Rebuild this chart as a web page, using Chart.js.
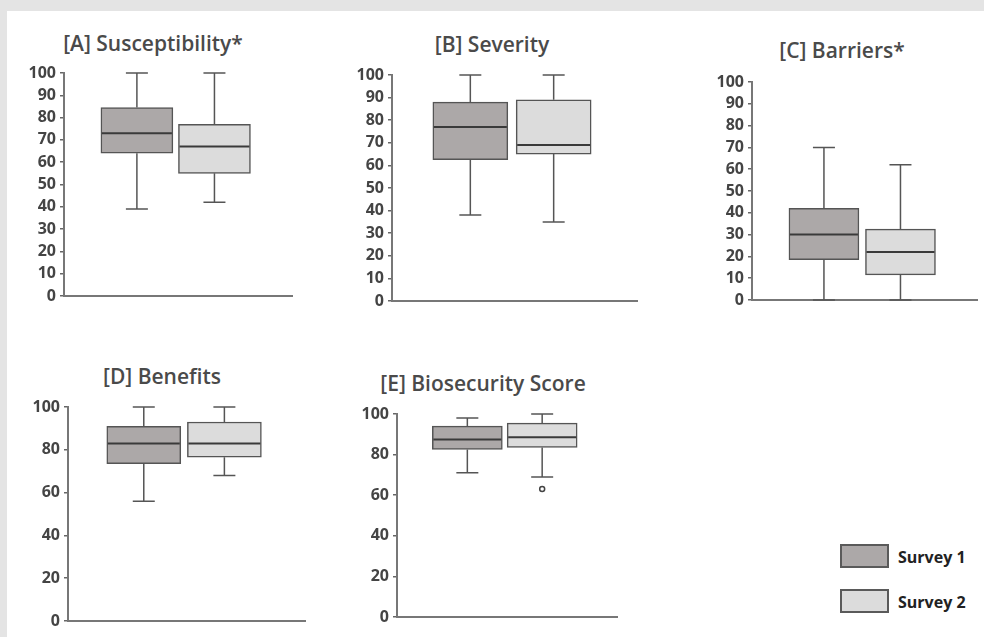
<!DOCTYPE html>
<html>
<head>
<meta charset="utf-8">
<script src="https://cdn.jsdelivr.net/npm/chart.js@4/dist/chart.umd.min.js"></script>
<style>
  html, body { margin: 0; padding: 0; }
  body { width: 984px; height: 637px; background: #e4e4e4; position: relative; overflow: hidden; font-family: "Open Sans", sans-serif; }
  #sheet { position: absolute; left: 7px; top: 11px; right: 0; bottom: 0; background: #fff; }
  canvas { position: absolute; }
  .title { position: absolute; transform: translate(-50%, -50%); font-size: 21px; font-weight: 600; color: #4a4a4a; white-space: nowrap; }
  .swatch { position: absolute; width: 45px; height: 20px; border: 2px solid #5a5a5a; }
  .legend-text { position: absolute; transform: translateY(-50%); font-size: 16px; font-weight: bold; color: #222; white-space: nowrap; }
</style>
</head>
<body>
<div id="sheet"></div>
<script>
const categories = ['Survey 1', 'Survey 2'];

// each survey: [min, q1, median, q3, max]
const susceptibility = [[39, 64, 73, 84.5, 100], [42, 55, 67, 77, 100]];
const severity = [[38, 62.5, 77, 88, 100], [35, 65, 69, 89, 100]];
const barriers = [[0, 18.5, 30, 42, 70], [0, 11.5, 22, 32.5, 62]];
const benefits = [[56, 73.5, 83, 91, 100], [68, 76.5, 83, 93, 100]];
const biosecurity = [[71, 82.5, 87.5, 94, 98], [69, 83.5, 88.5, 95.5, 100]];
const biosecurityOutliers = [[], [63]];

const noOutliers = [[], []];
const fillColors = ['#aca8a8', '#dcdcdc'];

// layout of each panel: y-axis line x, pixel of 100, pixel of 0, x-axis end
const panels = [
  { title: '[A] Susceptibility*', stats: susceptibility, outliers: noOutliers, step: 10, axisX: 64, top: 73, bottom: 296, right: 292, box: 72, tx: 153, ty: 43 },
  { title: '[B] Severity', stats: severity, outliers: noOutliers, step: 10, axisX: 392, top: 75, bottom: 301, right: 637, box: 75, tx: 492, ty: 44 },
  { title: '[C] Barriers*', stats: barriers, outliers: noOutliers, step: 10, axisX: 752, top: 82, bottom: 300, right: 977, box: 70, tx: 842, ty: 50 },
  { title: '[D] Benefits', stats: benefits, outliers: noOutliers, step: 20, axisX: 68, top: 407, bottom: 621, right: 305, box: 74, tx: 162, ty: 376 },
  { title: '[E] Biosecurity Score', stats: biosecurity, outliers: biosecurityOutliers, step: 20, axisX: 397, top: 414, bottom: 617, right: 617, box: 70, tx: 483, ty: 383 }
];

const AXIS_W = 50;
const PAD = 16;

// whiskers, caps, medians and outliers drawn from the chart scales
const boxWhiskers = {
  id: 'boxWhiskers',
  afterDatasetsDraw(chart, args, opts) {
    const ctx = chart.ctx;
    const y = chart.scales.y;
    const meta = chart.getDatasetMeta(0);
    opts.stats.forEach((s, i) => {
      const bar = meta.data[i];
      const cx = bar.x;
      const half = bar.width / 2;
      const [mn, q1, med, q3, mx] = s.map(v => y.getPixelForValue(v));
      ctx.save();
      ctx.strokeStyle = '#555';
      ctx.lineWidth = 1.5;
      ctx.beginPath();
      ctx.moveTo(cx, q3); ctx.lineTo(cx, mx);
      ctx.moveTo(cx, q1); ctx.lineTo(cx, mn);
      ctx.moveTo(cx - 11, mx); ctx.lineTo(cx + 11, mx);
      ctx.moveTo(cx - 11, mn); ctx.lineTo(cx + 11, mn);
      ctx.stroke();
      ctx.strokeStyle = '#3a3a3a';
      ctx.lineWidth = 2;
      ctx.beginPath();
      ctx.moveTo(cx - half + 1, med); ctx.lineTo(cx + half - 1, med);
      ctx.stroke();
      (opts.outliers[i] || []).forEach(v => {
        ctx.beginPath();
        ctx.arc(cx, y.getPixelForValue(v), 2.5, 0, Math.PI * 2);
        ctx.lineWidth = 1.5;
        ctx.strokeStyle = '#444';
        ctx.stroke();
      });
      ctx.restore();
    });
  }
};

panels.forEach(p => {
  const canvas = document.createElement('canvas');
  const left = p.axisX - AXIS_W;
  const top = p.top - PAD;
  canvas.width = p.right - left + 4;
  canvas.height = p.bottom - p.top + PAD * 2;
  canvas.style.left = left + 'px';
  canvas.style.top = top + 'px';
  document.body.appendChild(canvas);

  const title = document.createElement('div');
  title.className = 'title';
  title.textContent = p.title;
  title.style.left = p.tx + 'px';
  title.style.top = p.ty + 'px';
  document.body.appendChild(title);

  new Chart(canvas.getContext('2d'), {
    type: 'bar',
    data: {
      labels: categories,
      datasets: [{
        label: p.title,
        data: p.stats.map((s, i) => ({ x: i + 1, y: [s[1], s[3]] })),
        backgroundColor: fillColors,
        borderColor: '#555',
        borderWidth: 1.5,
        borderSkipped: false,
        barThickness: p.box
      }]
    },
    options: {
      responsive: false,
      animation: false,
      layout: { padding: { top: PAD, bottom: PAD, left: 0, right: 4 } },
      plugins: {
        legend: { display: false },
        tooltip: { enabled: false },
        boxWhiskers: { stats: p.stats, outliers: p.outliers }
      },
      scales: {
        x: {
          type: 'linear',
          min: 0.06,
          max: 3,
          offset: false,
          grid: { display: false },
          ticks: { display: false },
          border: { display: true, color: '#777', width: 2 },
          afterFit: (scale) => { scale.height = 0; }
        },
        y: {
          min: 0,
          max: 100,
          ticks: {
            stepSize: p.step,
            autoSkip: false,
            padding: 4,
            color: '#444',
            font: { family: 'Open Sans', size: 16, weight: 'bold' }
          },
          grid: { drawOnChartArea: false, drawTicks: true, tickLength: 4, color: '#666', lineWidth: 1.5 },
          border: { display: true, color: '#777', width: 2 },
          afterFit: (scale) => { scale.width = AXIS_W; }
        }
      }
    },
    plugins: [boxWhiskers]
  });
});

// legend
const legendRows = [{ y: 544, label: categories[0] }, { y: 589, label: categories[1] }];
legendRows.forEach((r, i) => {
  const sw = document.createElement('div');
  sw.className = 'swatch';
  sw.style.left = '840px';
  sw.style.top = r.y + 'px';
  sw.style.background = fillColors[i];
  document.body.appendChild(sw);
  const t = document.createElement('div');
  t.className = 'legend-text';
  t.textContent = r.label;
  t.style.left = '898px';
  t.style.top = (r.y + 13) + 'px';
  document.body.appendChild(t);
});
</script>
</body>
</html>
